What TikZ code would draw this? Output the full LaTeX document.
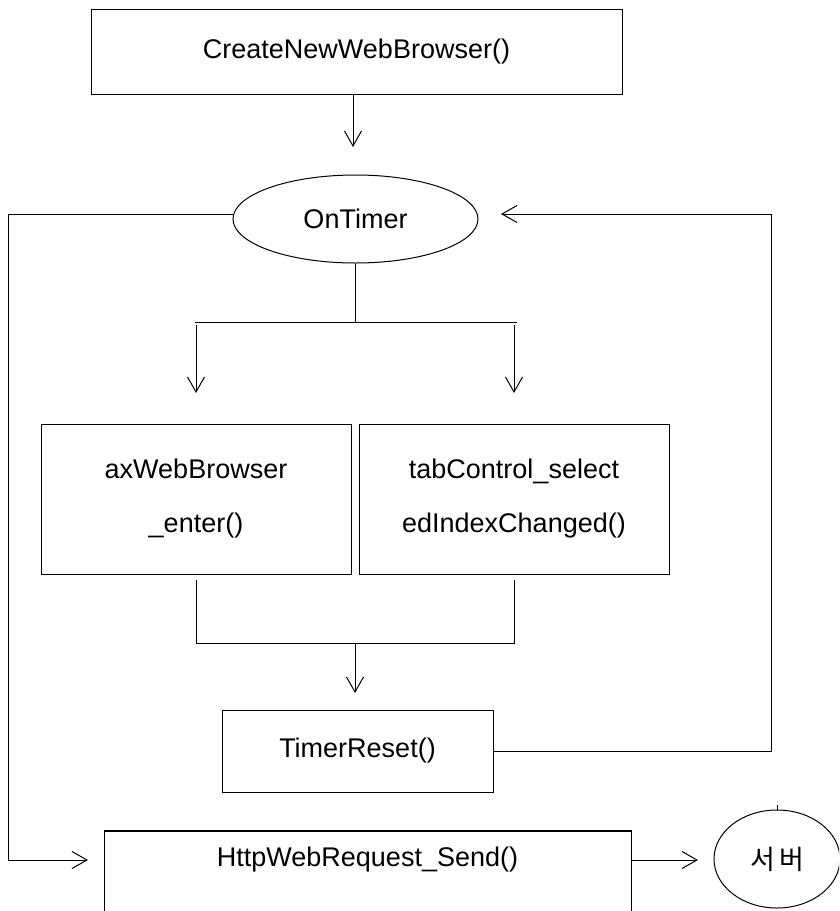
\documentclass[tikz,border=0pt]{standalone}
\usepackage{fontspec}
\setmainfont{Liberation Sans}
\newfontfamily\krfont{Noto Sans CJK KR}
\usetikzlibrary{arrows.meta,shapes.geometric}
\begin{document}
\begin{tikzpicture}[x=1pt,y=-1pt,
  line width=1pt,
  every node/.style={font=\fontsize{27}{54}\selectfont, inner sep=0pt},
  box/.style={draw, rectangle, align=center},
  oval/.style={draw, ellipse},
  arr/.style={-{Straight Barb[length=15pt,width=17pt]}},
]
\useasboundingbox (0,0) rectangle (839,911);
\clip (0,0) rectangle (839,911);

% process boxes
\node[box, minimum width=531pt, minimum height=85pt] (create) at (356.5,51.5) {CreateNewWebBrowser()};
\node[oval, minimum width=245pt, minimum height=88pt] (timer) at (355.5,219) {OnTimer};
\node[box, minimum width=310pt, minimum height=150pt] (axweb) at (196,499) {\raisebox{-5pt}{\parbox{300pt}{\centering axWebBrowser\\\_enter()}}};
\node[box, minimum width=310pt, minimum height=150pt] (tabc) at (514,499) {\raisebox{-5pt}{\parbox{300pt}{\centering tabControl\_select\\edIndexChanged()}}};
\node[box, minimum width=271pt, minimum height=82pt] (reset) at (357.5,751) {TimerReset()};
\node[draw, rectangle, minimum width=527pt, minimum height=160pt, anchor=north] (http) at (367.5,831) {};
\draw[line width=1.7pt] (http.north west) -- (http.north east);
\node (httptext) at (367.5,860) {HttpWebRequest\_Send()};
\node[oval, minimum width=126pt, minimum height=98pt] (server) at (777,859) {\krfont 서\hspace{4pt}버};
\draw (server.north) -- ++(0,-5);

% free ends and bends of the connectors
\coordinate (createTip) at (353,147);
\coordinate (splitTop) at (355.5,322);
\coordinate (splitL) at (195,322);
\coordinate (splitR) at (517,322);
\coordinate (axTip) at (196,393);
\coordinate (tabTip) at (514,393);
\coordinate (joinY) at (355,643);
\coordinate (resetTip) at (355,693);
\coordinate (loopL) at (8,214);
\coordinate (sendTip) at (88,860);
\coordinate (loopR) at (771,214);
\coordinate (timerTip) at (501,214);
\coordinate (serverTip) at (698,860);

% start
\draw[arr] (create.south -| createTip) -- (createTip);

% fan-out from the timer
\draw (timer.south) -- (splitTop);
\draw (splitL) -- (splitR);
\draw[arr] (axTip |- 0,325) -- (axTip);
\draw[arr] (tabTip |- 0,325) -- (tabTip);

% join into TimerReset
\draw (axweb.south |- 0,580) -- (axweb.south |- joinY) -- (tabc.south |- joinY) -- (tabc.south |- 0,580);
\draw[arr] (joinY) -- (resetTip);

% reset loops back to the timer
\draw[arr] (reset.east) -- (reset.east -| loopR) -- (loopR) -- (timerTip);

% timer also triggers the request
\draw[arr] (loopL -| timer.west) -- (loopL) -- (loopL |- httptext) -- (sendTip);

% request goes to the server
\draw[arr] (http.west |- httptext) ++(527,0) -- (serverTip);
\end{tikzpicture}
\end{document}
